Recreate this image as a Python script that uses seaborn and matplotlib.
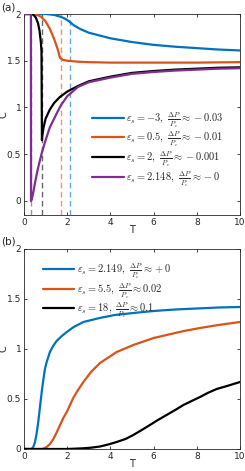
import matplotlib
matplotlib.use("Agg")
import matplotlib.pyplot as plt
import numpy as np
import pandas as pd
import seaborn as sns

# panel (a): C(T)
t_a_blue = [0, 1.0, 1.4, 1.7, 1.9, 2.1, 2.3, 2.6, 3.0, 3.5, 4.0, 5.0, 6.0, 7.0, 8.0, 9.0, 10.0]
c_a_blue = [2, 2.0, 1.99, 1.97, 1.95, 1.92, 1.88, 1.84, 1.8, 1.77, 1.74, 1.7, 1.67, 1.65, 1.635, 1.62, 1.61]

t_a_orange = [0, 0.4, 0.6, 0.8, 1.0, 1.2, 1.4, 1.55, 1.67, 1.8, 2.0, 2.5, 3.0, 4.0, 6.0, 8.0, 10.0]
c_a_orange = [2, 2.0, 1.99, 1.97, 1.92, 1.84, 1.73, 1.63, 1.53, 1.51, 1.5, 1.49, 1.485, 1.48, 1.48, 1.48, 1.485]

t_a_black = [0, 0.35, 0.45, 0.55, 0.65, 0.72, 0.78, 0.81, 0.83, 0.85, 0.9, 1.0, 1.2, 1.4, 1.65,
             2.0, 2.5, 3.0, 4.0, 5.0, 6.0, 7.0, 8.0, 9.0, 10.0]
c_a_black = [2, 2.0, 1.99, 1.96, 1.9, 1.82, 1.7, 1.6, 0.65, 0.7, 0.78, 0.88, 0.98, 1.05, 1.11,
             1.17, 1.23, 1.28, 1.33, 1.37, 1.39, 1.405, 1.415, 1.425, 1.43]

t_a_purple = [0, 0.32, 0.325, 0.36, 0.42, 0.5, 0.6, 0.7, 0.83, 1.0, 1.2, 1.5, 1.7, 2.0, 2.5,
              3.0, 4.0, 5.0, 6.0, 7.0, 8.0, 9.0, 10.0]
c_a_purple = [2, 2.0, 0.0, 0.02, 0.08, 0.18, 0.3, 0.4, 0.52, 0.65, 0.79, 0.93, 1.02, 1.12, 1.22,
              1.27, 1.32, 1.36, 1.38, 1.395, 1.405, 1.415, 1.42]

t_crit_a = [2.13, 1.71, 0.83, 0.32]

labels_a = [r"$\varepsilon_s = -3,\ \frac{\Delta P}{P_c} \approx -0.03$",
            r"$\varepsilon_s = 0.5,\ \frac{\Delta P}{P_c} \approx -0.01$",
            r"$\varepsilon_s = 2,\ \frac{\Delta P}{P_c} \approx -0.001$",
            r"$\varepsilon_s = 2.148,\ \frac{\Delta P}{P_c} \approx -0$"]

# panel (b)
t_b_blue = [0, 0.35, 0.43, 0.51, 0.58, 0.66, 0.74, 0.82, 0.9, 0.97, 1.05, 1.2, 1.35, 1.51, 1.75,
            1.98, 2.3, 2.75, 3.5, 4.2, 5.06, 6.0, 7.0, 8.0, 9.0, 10.0]
c_b_blue = [0, 0.0, 0.02, 0.07, 0.15, 0.27, 0.42, 0.57, 0.7, 0.8, 0.87, 0.97, 1.03, 1.08, 1.13,
            1.17, 1.22, 1.27, 1.31, 1.34, 1.36, 1.38, 1.395, 1.405, 1.415, 1.42]

t_b_orange = [0, 0.85, 1.05, 1.2, 1.36, 1.5, 1.67, 1.82, 1.98, 2.13, 2.28, 2.5, 2.75, 3.1, 3.52,
              4.29, 5.06, 6.0, 6.6, 7.4, 8.15, 9.0, 10.0]
c_b_orange = [0, 0.0, 0.02, 0.05, 0.1, 0.16, 0.24, 0.31, 0.37, 0.44, 0.51, 0.59, 0.67, 0.77, 0.86,
              0.97, 1.04, 1.11, 1.14, 1.18, 1.21, 1.24, 1.27]

t_b_black = [0, 2.0, 2.75, 3.1, 3.52, 3.9, 4.29, 4.7, 5.06, 5.45, 5.83, 6.2, 6.6, 7.0, 7.38,
             7.76, 8.15, 8.5, 8.92, 9.4, 10.0]
c_b_black = [0, 0.0, 0.007, 0.013, 0.025, 0.045, 0.07, 0.1, 0.14, 0.19, 0.24, 0.29, 0.34, 0.39, 0.44,
             0.48, 0.52, 0.56, 0.6, 0.63, 0.67]

labels_b = [r"$\varepsilon_s = 2.149,\ \frac{\Delta P}{P_c} \approx +0$",
            r"$\varepsilon_s = 5.5,\ \frac{\Delta P}{P_c} \approx 0.02$",
            r"$\varepsilon_s = 18,\ \frac{\Delta P}{P_c} \approx 0.1$"]

colors = ["#0072BD", "#D95319", "#000000", "#7E2F8E"]


def build_frame(ts, cs, labels):
    parts = []
    for t, c, lab in zip(ts, cs, labels):
        parts.append(pd.DataFrame({"T": t, "C": c, "series": lab}))
    return pd.concat(parts, ignore_index=True)


sns.set_theme(style="ticks")
plt.rcParams["font.family"] = ["DejaVu Sans"]
plt.rcParams["mathtext.fontset"] = "cm"
plt.rcParams["axes.linewidth"] = 0.6
plt.rcParams["axes.edgecolor"] = "#262626"

fig = plt.figure(figsize=(2.45, 4.71), dpi=100)
ax_a = fig.add_axes([24 / 245, 256 / 471, 216 / 245, 201 / 471])
ax_b = fig.add_axes([24 / 245, 22 / 471, 216 / 245, 200 / 471])

df_a = build_frame([t_a_blue, t_a_orange, t_a_black, t_a_purple],
                   [c_a_blue, c_a_orange, c_a_black, c_a_purple], labels_a)
df_b = build_frame([t_b_blue, t_b_orange, t_b_black],
                   [c_b_blue, c_b_orange, c_b_black], labels_b)

for tc, col in zip(t_crit_a, colors):
    ax_a.axvline(tc, color=col, ls=(0, (4, 2.5)), lw=1.0, alpha=0.6, zorder=1)

sns.lineplot(data=df_a, x="T", y="C", hue="series", hue_order=labels_a,
             palette=colors, estimator=None, sort=False, lw=1.6, ax=ax_a, zorder=3)
sns.lineplot(data=df_b, x="T", y="C", hue="series", hue_order=labels_b,
             palette=colors[:3], estimator=None, sort=False, lw=1.6, ax=ax_b, zorder=3)

for ax, ylo in [(ax_a, -0.15), (ax_b, 0)]:
    ax.set_xlim(0, 10)
    ax.set_ylim(ylo, 2)
    ax.set_xticks(np.arange(0, 11, 2))
    ax.set_yticks([0, 0.5, 1, 1.5, 2])
    ax.set_yticklabels(["0", "0.5", "1", "1.5", "2"])
    ax.tick_params(direction="in", length=2.5, width=0.6, labelsize=6.5, pad=2,
                   top=True, right=True)
    ax.set_xlabel("T", fontsize=7, labelpad=-1)
    ax.set_ylabel("C", fontsize=7)
    ax.yaxis.set_label_coords(-0.07, 0.5)

ax_a.legend(loc="lower right", bbox_to_anchor=(0.95, 0.1), frameon=False, fontsize=7.5,
            handlelength=3.0, handletextpad=0.2, labelspacing=0.0, borderpad=0.1)
ax_b.legend(loc="upper left", bbox_to_anchor=(0.06, 0.97), frameon=False, fontsize=7.5,
            handlelength=3.0, handletextpad=0.2, labelspacing=0.0, borderpad=0.1)

fig.text(0.005, 1 - 10 / 471, "(a)", fontsize=7.5)
fig.text(0.005, 1 - 245 / 471, "(b)", fontsize=7.5)

fig.savefig("out.png", dpi=100)
